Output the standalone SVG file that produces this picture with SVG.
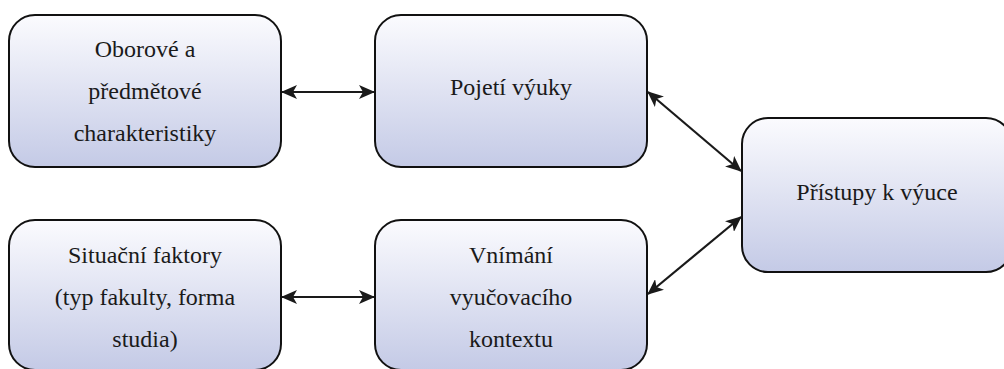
<svg xmlns="http://www.w3.org/2000/svg" width="1004" height="369" viewBox="0 0 1004 369" font-family="Liberation Serif">
<defs>
<linearGradient id="g" x1="0" y1="0" x2="0" y2="1">
<stop offset="0" stop-color="#fbfbfe"/>
<stop offset="1" stop-color="#c4cae6"/>
</linearGradient>
<marker id="ah" viewBox="0 0 16 14" refX="15" refY="7" markerWidth="16" markerHeight="14" markerUnits="userSpaceOnUse" orient="auto-start-reverse">
<path d="M0,0 L16,7 L0,14 L4,7 Z" fill="#1a1a1a"/>
</marker>
</defs>
<g id="n1">
<rect x="9" y="15" width="272" height="152" rx="26" fill="url(#g)" stroke="#111" stroke-width="2"/>
<text x="145" y="57" style="font-family:'Liberation Serif'" font-family="Liberation Serif" font-size="24" fill="#1a1a1a" text-anchor="middle">Oborové a</text>
<text x="145" y="99" style="font-family:'Liberation Serif'" font-family="Liberation Serif" font-size="24" fill="#1a1a1a" text-anchor="middle">předmětové</text>
<text x="145" y="141" style="font-family:'Liberation Serif'" font-family="Liberation Serif" font-size="24" fill="#1a1a1a" text-anchor="middle">charakteristiky</text>
</g>
<g id="n2">
<rect x="375" y="15" width="272" height="152" rx="26" fill="url(#g)" stroke="#111" stroke-width="2"/>
<text x="511" y="95" style="font-family:'Liberation Serif'" font-family="Liberation Serif" font-size="24" fill="#1a1a1a" text-anchor="middle">Pojetí výuky</text>
</g>
<g id="n3">
<rect x="742" y="118" width="270" height="154" rx="26" fill="url(#g)" stroke="#111" stroke-width="2"/>
<text x="877" y="200" style="font-family:'Liberation Serif'" font-family="Liberation Serif" font-size="24" fill="#1a1a1a" text-anchor="middle">Přístupy k výuce</text>
</g>
<g id="n4">
<rect x="9" y="220" width="272" height="150" rx="26" fill="url(#g)" stroke="#111" stroke-width="2"/>
<text x="145" y="263" style="font-family:'Liberation Serif'" font-family="Liberation Serif" font-size="24" fill="#1a1a1a" text-anchor="middle">Situační faktory</text>
<text x="145" y="305" style="font-family:'Liberation Serif'" font-family="Liberation Serif" font-size="24" fill="#1a1a1a" text-anchor="middle">(typ fakulty, forma</text>
<text x="145" y="347" style="font-family:'Liberation Serif'" font-family="Liberation Serif" font-size="24" fill="#1a1a1a" text-anchor="middle">studia)</text>
</g>
<g id="n5">
<rect x="375" y="220" width="272" height="150" rx="26" fill="url(#g)" stroke="#111" stroke-width="2"/>
<text x="511" y="263" style="font-family:'Liberation Serif'" font-family="Liberation Serif" font-size="24" fill="#1a1a1a" text-anchor="middle">Vnímání</text>
<text x="511" y="305" style="font-family:'Liberation Serif'" font-family="Liberation Serif" font-size="24" fill="#1a1a1a" text-anchor="middle">vyučovacího</text>
<text x="511" y="347" style="font-family:'Liberation Serif'" font-family="Liberation Serif" font-size="24" fill="#1a1a1a" text-anchor="middle">kontextu</text>
</g>
<g id="connectors" stroke="#1a1a1a" stroke-width="2.2" fill="none" marker-start="url(#ah)" marker-end="url(#ah)">
<line x1="282" y1="92" x2="374" y2="92"/>
<line x1="282" y1="297" x2="374" y2="297"/>
<line x1="648" y1="92" x2="741" y2="171"/>
<line x1="648" y1="294" x2="741" y2="217"/>
</g>
</svg>
